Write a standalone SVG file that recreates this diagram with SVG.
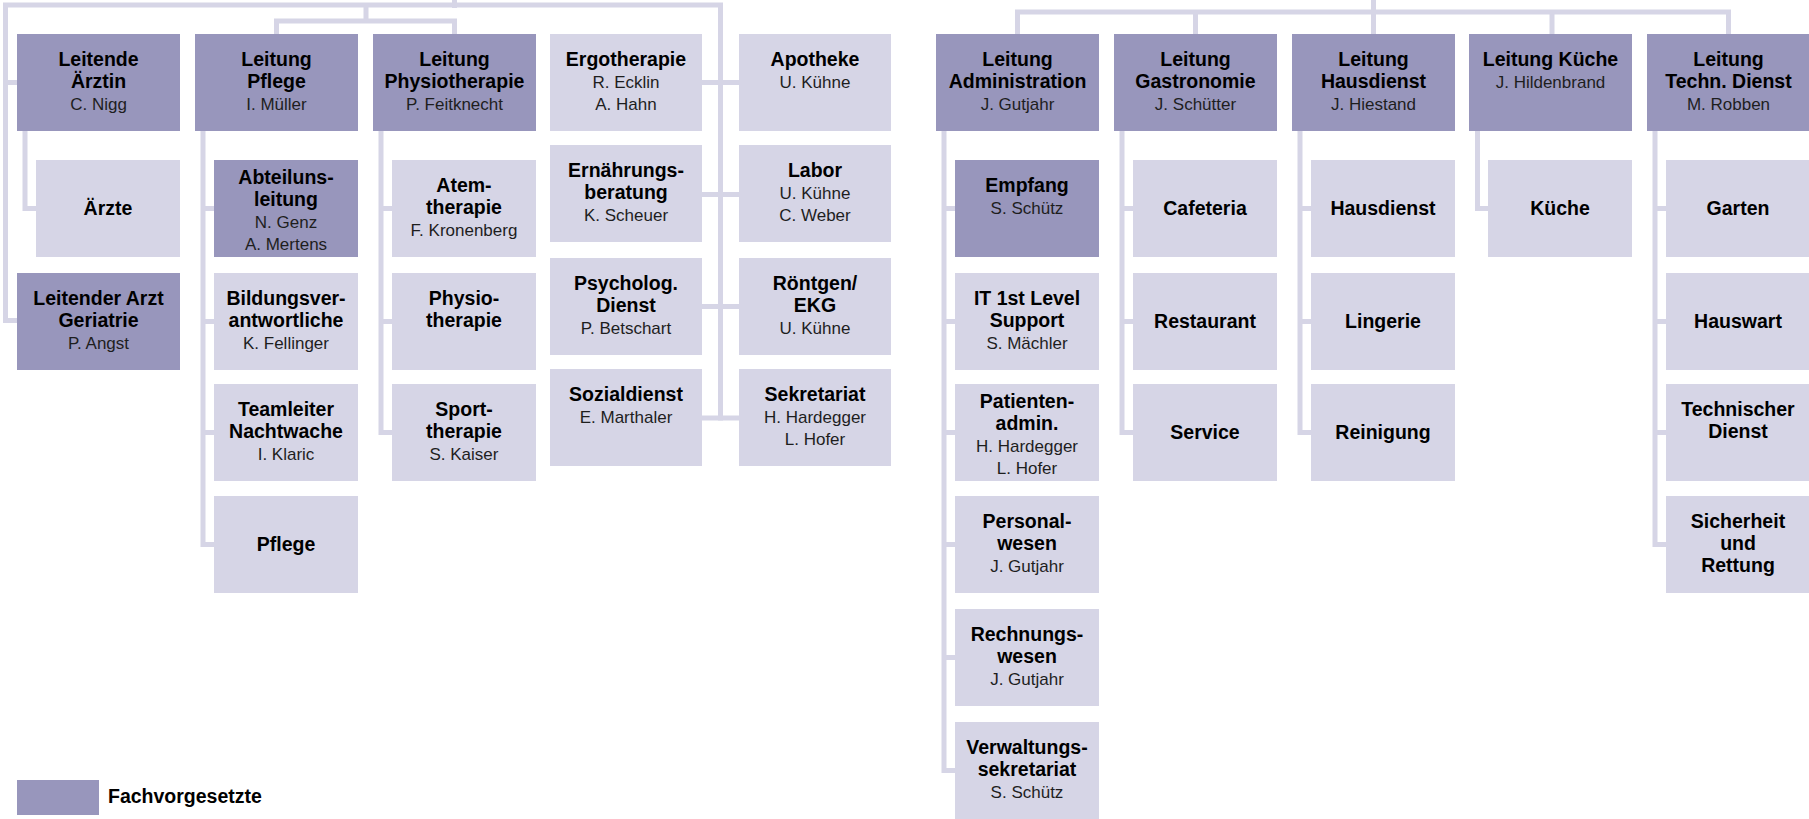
<svg xmlns="http://www.w3.org/2000/svg" width="1809" height="819" viewBox="0 0 1809 819">
<style>
.d{fill:#9896bc}
.l{fill:#d6d5e6}
text{font-family:"Liberation Sans",Arial,sans-serif;font-size:17px;text-anchor:middle;fill:#000}
.b{font-weight:700;font-size:19.5px}
.n{font-weight:400;font-size:17px;fill:#1e1e1e}
.c{fill:none;stroke:#d6d5e6;stroke-width:5;stroke-linejoin:miter;stroke-linecap:butt}
</style>
<rect width="1809" height="819" fill="#fff"/>
<g id="connectors" class="c">
<path d="M454.5,-2V8"/>
<path d="M17,320.5H5.5V5H720.5V420.5"/>
<path d="M5.5,82.5H17"/>
<path d="M702,82.5H739M702,194.5H739M702,306.5H739M702,418H739"/>
<path d="M366,5V21M276.5,34V21H454.5V34"/>
<path d="M25,131V208.5H36"/>
<path d="M203,131V544.5H214M203,208.5H214M203,321.5H214M203,432.5H214"/>
<path d="M381,131V432.5H392M381,208.5H392M381,321.5H392"/>
<path d="M1373.5,-2V34M1017.5,34V12H1728.5V34M1195.5,12V34M1552,12V34"/>
<path d="M944,131V770.5H955M944,208.5H955M944,321.5H955M944,432.5H955M944,544.5H955M944,657.5H955"/>
<path d="M1122,131V432.5H1133M1122,208.5H1133M1122,321.5H1133"/>
<path d="M1300,131V432.5H1311M1300,208.5H1311M1300,321.5H1311"/>
<path d="M1477.5,131V208.5H1488"/>
<path d="M1655,131V544.5H1666M1655,208.5H1666M1655,321.5H1666M1655,432.5H1666"/>
</g>
<g id="n-leitende-aerztin"><rect class="d" x="17" y="34" width="163" height="97"/><text><tspan x="98.5" y="66" class="b">Leitende</tspan><tspan x="98.5" y="88" class="b">Ärztin</tspan><tspan x="98.5" y="110" class="n">C. Nigg</tspan></text></g>
<g id="n-aerzte"><rect class="l" x="36" y="160" width="144" height="97"/><text x="108" y="214.5" class="b">Ärzte</text></g>
<g id="n-leitender-arzt"><rect class="d" x="17" y="273" width="163" height="97"/><text><tspan x="98.5" y="305" class="b">Leitender Arzt</tspan><tspan x="98.5" y="327" class="b">Geriatrie</tspan><tspan x="98.5" y="349" class="n">P. Angst</tspan></text></g>
<g id="n-leitung-pflege"><rect class="d" x="195" y="34" width="163" height="97"/><text><tspan x="276.5" y="66" class="b">Leitung</tspan><tspan x="276.5" y="88" class="b">Pflege</tspan><tspan x="276.5" y="110" class="n">I. Müller</tspan></text></g>
<g id="n-abteilungsleitung"><rect class="d" x="214" y="160" width="144" height="97"/><text><tspan x="286" y="183.5" class="b">Abteiluns-</tspan><tspan x="286" y="205.5" class="b">leitung</tspan><tspan x="286" y="227.5" class="n">N. Genz</tspan><tspan x="286" y="249.5" class="n">A. Mertens</tspan></text></g>
<g id="n-bildung"><rect class="l" x="214" y="273" width="144" height="97"/><text><tspan x="286" y="305" class="b">Bildungsver-</tspan><tspan x="286" y="327" class="b">antwortliche</tspan><tspan x="286" y="349" class="n">K. Fellinger</tspan></text></g>
<g id="n-teamleiter"><rect class="l" x="214" y="384" width="144" height="97"/><text><tspan x="286" y="416" class="b">Teamleiter</tspan><tspan x="286" y="438" class="b">Nachtwache</tspan><tspan x="286" y="460" class="n">I. Klaric</tspan></text></g>
<g id="n-pflege"><rect class="l" x="214" y="496" width="144" height="97"/><text x="286" y="550.5" class="b">Pflege</text></g>
<g id="n-leitung-physio"><rect class="d" x="373" y="34" width="163" height="97"/><text><tspan x="454.5" y="66" class="b">Leitung</tspan><tspan x="454.5" y="88" class="b">Physiotherapie</tspan><tspan x="454.5" y="110" class="n">P. Feitknecht</tspan></text></g>
<g id="n-atemtherapie"><rect class="l" x="392" y="160" width="144" height="97"/><text><tspan x="464" y="192" class="b">Atem-</tspan><tspan x="464" y="214" class="b">therapie</tspan><tspan x="464" y="236" class="n">F. Kronenberg</tspan></text></g>
<g id="n-physiotherapie"><rect class="l" x="392" y="273" width="144" height="97"/><text><tspan x="464" y="305" class="b">Physio-</tspan><tspan x="464" y="327" class="b">therapie</tspan></text></g>
<g id="n-sporttherapie"><rect class="l" x="392" y="384" width="144" height="97"/><text><tspan x="464" y="416" class="b">Sport-</tspan><tspan x="464" y="438" class="b">therapie</tspan><tspan x="464" y="460" class="n">S. Kaiser</tspan></text></g>
<g id="n-ergotherapie"><rect class="l" x="550" y="34" width="152" height="97"/><text><tspan x="626" y="66" class="b">Ergotherapie</tspan><tspan x="626" y="88" class="n">R. Ecklin</tspan><tspan x="626" y="110" class="n">A. Hahn</tspan></text></g>
<g id="n-ernaehrung"><rect class="l" x="550" y="145" width="152" height="97"/><text><tspan x="626" y="177" class="b">Ernährungs-</tspan><tspan x="626" y="199" class="b">beratung</tspan><tspan x="626" y="221" class="n">K. Scheuer</tspan></text></g>
<g id="n-psycholog"><rect class="l" x="550" y="258" width="152" height="97"/><text><tspan x="626" y="290" class="b">Psycholog.</tspan><tspan x="626" y="312" class="b">Dienst</tspan><tspan x="626" y="334" class="n">P. Betschart</tspan></text></g>
<g id="n-sozialdienst"><rect class="l" x="550" y="369" width="152" height="97"/><text><tspan x="626" y="401" class="b">Sozialdienst</tspan><tspan x="626" y="423" class="n">E. Marthaler</tspan></text></g>
<g id="n-apotheke"><rect class="l" x="739" y="34" width="152" height="97"/><text><tspan x="815" y="66" class="b">Apotheke</tspan><tspan x="815" y="88" class="n">U. Kühne</tspan></text></g>
<g id="n-labor"><rect class="l" x="739" y="145" width="152" height="97"/><text><tspan x="815" y="177" class="b">Labor</tspan><tspan x="815" y="199" class="n">U. Kühne</tspan><tspan x="815" y="221" class="n">C. Weber</tspan></text></g>
<g id="n-roentgen"><rect class="l" x="739" y="258" width="152" height="97"/><text><tspan x="815" y="290" class="b">Röntgen/</tspan><tspan x="815" y="312" class="b">EKG</tspan><tspan x="815" y="334" class="n">U. Kühne</tspan></text></g>
<g id="n-sekretariat"><rect class="l" x="739" y="369" width="152" height="97"/><text><tspan x="815" y="401" class="b">Sekretariat</tspan><tspan x="815" y="423" class="n">H. Hardegger</tspan><tspan x="815" y="445" class="n">L. Hofer</tspan></text></g>
<g id="n-leitung-admin"><rect class="d" x="936" y="34" width="163" height="97"/><text><tspan x="1017.5" y="66" class="b">Leitung</tspan><tspan x="1017.5" y="88" class="b">Administration</tspan><tspan x="1017.5" y="110" class="n">J. Gutjahr</tspan></text></g>
<g id="n-empfang"><rect class="d" x="955" y="160" width="144" height="97"/><text><tspan x="1027" y="192" class="b">Empfang</tspan><tspan x="1027" y="214" class="n">S. Schütz</tspan></text></g>
<g id="n-it"><rect class="l" x="955" y="273" width="144" height="97"/><text><tspan x="1027" y="305" class="b">IT 1st Level</tspan><tspan x="1027" y="327" class="b">Support</tspan><tspan x="1027" y="349" class="n">S. Mächler</tspan></text></g>
<g id="n-patienten"><rect class="l" x="955" y="384" width="144" height="97"/><text><tspan x="1027" y="407.5" class="b">Patienten-</tspan><tspan x="1027" y="429.5" class="b">admin.</tspan><tspan x="1027" y="451.5" class="n">H. Hardegger</tspan><tspan x="1027" y="473.5" class="n">L. Hofer</tspan></text></g>
<g id="n-personal"><rect class="l" x="955" y="496" width="144" height="97"/><text><tspan x="1027" y="528" class="b">Personal-</tspan><tspan x="1027" y="550" class="b">wesen</tspan><tspan x="1027" y="572" class="n">J. Gutjahr</tspan></text></g>
<g id="n-rechnung"><rect class="l" x="955" y="609" width="144" height="97"/><text><tspan x="1027" y="641" class="b">Rechnungs-</tspan><tspan x="1027" y="663" class="b">wesen</tspan><tspan x="1027" y="685" class="n">J. Gutjahr</tspan></text></g>
<g id="n-verwaltung"><rect class="l" x="955" y="722" width="144" height="97"/><text><tspan x="1027" y="754" class="b">Verwaltungs-</tspan><tspan x="1027" y="776" class="b">sekretariat</tspan><tspan x="1027" y="798" class="n">S. Schütz</tspan></text></g>
<g id="n-leitung-gastro"><rect class="d" x="1114" y="34" width="163" height="97"/><text><tspan x="1195.5" y="66" class="b">Leitung</tspan><tspan x="1195.5" y="88" class="b">Gastronomie</tspan><tspan x="1195.5" y="110" class="n">J. Schütter</tspan></text></g>
<g id="n-cafeteria"><rect class="l" x="1133" y="160" width="144" height="97"/><text x="1205" y="214.5" class="b">Cafeteria</text></g>
<g id="n-restaurant"><rect class="l" x="1133" y="273" width="144" height="97"/><text x="1205" y="327.5" class="b">Restaurant</text></g>
<g id="n-service"><rect class="l" x="1133" y="384" width="144" height="97"/><text x="1205" y="438.5" class="b">Service</text></g>
<g id="n-leitung-hausdienst"><rect class="d" x="1292" y="34" width="163" height="97"/><text><tspan x="1373.5" y="66" class="b">Leitung</tspan><tspan x="1373.5" y="88" class="b">Hausdienst</tspan><tspan x="1373.5" y="110" class="n">J. Hiestand</tspan></text></g>
<g id="n-hausdienst"><rect class="l" x="1311" y="160" width="144" height="97"/><text x="1383" y="214.5" class="b">Hausdienst</text></g>
<g id="n-lingerie"><rect class="l" x="1311" y="273" width="144" height="97"/><text x="1383" y="327.5" class="b">Lingerie</text></g>
<g id="n-reinigung"><rect class="l" x="1311" y="384" width="144" height="97"/><text x="1383" y="438.5" class="b">Reinigung</text></g>
<g id="n-leitung-kueche"><rect class="d" x="1469" y="34" width="163" height="97"/><text><tspan x="1550.5" y="66" class="b">Leitung Küche</tspan><tspan x="1550.5" y="88" class="n">J. Hildenbrand</tspan></text></g>
<g id="n-kueche"><rect class="l" x="1488" y="160" width="144" height="97"/><text x="1560" y="214.5" class="b">Küche</text></g>
<g id="n-leitung-techn"><rect class="d" x="1647" y="34" width="163" height="97"/><text><tspan x="1728.5" y="66" class="b">Leitung</tspan><tspan x="1728.5" y="88" class="b">Techn. Dienst</tspan><tspan x="1728.5" y="110" class="n">M. Robben</tspan></text></g>
<g id="n-garten"><rect class="l" x="1666" y="160" width="144" height="97"/><text x="1738" y="214.5" class="b">Garten</text></g>
<g id="n-hauswart"><rect class="l" x="1666" y="273" width="144" height="97"/><text x="1738" y="327.5" class="b">Hauswart</text></g>
<g id="n-techn-dienst"><rect class="l" x="1666" y="384" width="144" height="97"/><text><tspan x="1738" y="416" class="b">Technischer</tspan><tspan x="1738" y="438" class="b">Dienst</tspan></text></g>
<g id="n-sicherheit"><rect class="l" x="1666" y="496" width="144" height="97"/><text><tspan x="1738" y="528" class="b">Sicherheit</tspan><tspan x="1738" y="550" class="b">und</tspan><tspan x="1738" y="572" class="b">Rettung</tspan></text></g>
<g id="legend"><rect class="d" x="17" y="780" width="82" height="35"/><text x="108" y="803" class="b" style="text-anchor:start">Fachvorgesetzte</text></g>
</svg>
